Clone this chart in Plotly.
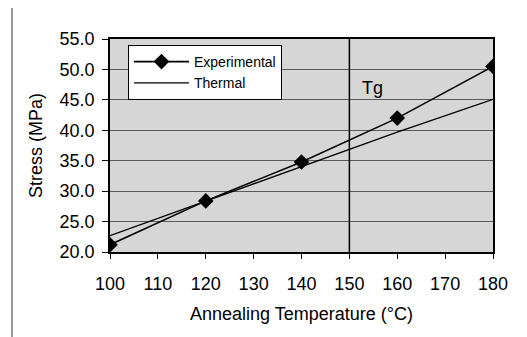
import plotly.graph_objects as go

temperature = [100, 120, 140, 160, 180]
experimental = [21.2, 28.4, 34.8, 42.0, 50.5]
thermal = [22.7, 28.4, 34.1, 39.7, 45.1]
x_ticks = [100, 110, 120, 130, 140, 150, 160, 170, 180]
y_ticks = [20, 25, 30, 35, 40, 45, 50, 55]
tg_temp = 150

# page body has an 8px margin; figure sized to fit the 527x337 window
OFF = 8
W, H = 527 - OFF, 337 - OFF
L, T = 110 - OFF, 39 - OFF
R = W - (493 - OFF)
B = H - (252 - OFF)
pw, ph = W - L - R, H - T - B

def px_x(p):
    return (p - OFF - L) / pw

def px_y(p):
    return (H - B - (p - OFF)) / ph

font_family = "Liberation Sans, Arial, sans-serif"

fig = go.Figure()
fig.add_trace(go.Scatter(
    x=temperature, y=experimental, name="Experimental", mode="lines+markers",
    line=dict(color="black", width=1.6),
    marker=dict(symbol="diamond", size=12, color="black"),
))
fig.add_trace(go.Scatter(
    x=temperature, y=thermal, name="Thermal", mode="lines",
    line=dict(color="black", width=1.3),
))

fig.add_shape(type="line", xref="x", yref="paper", x0=tg_temp, x1=tg_temp, y0=0, y1=1,
              line=dict(color="black", width=1.5))
fig.add_annotation(x=154.8, y=47.0, xref="x", yref="y", text="Tg", showarrow=False,
                   font=dict(size=18, color="black", family=font_family))

# outer chart frame (top and left edges visible)
fig.add_shape(type="line", xref="paper", yref="paper", x0=px_x(12), x1=px_x(527),
              y0=px_y(6), y1=px_y(6), line=dict(color="#555555", width=1.5))
fig.add_shape(type="line", xref="paper", yref="paper", x0=px_x(12), x1=px_x(12),
              y0=px_y(6), y1=px_y(337), line=dict(color="#777777", width=1.5))

fig.update_layout(
    width=W, height=H,
    margin=dict(l=L, r=R, t=T, b=B, pad=0),
    paper_bgcolor="white",
    plot_bgcolor="#d6d6d6",
    font=dict(family=font_family, color="black"),
    showlegend=True,
    legend=dict(
        x=px_x(128), y=px_y(45), xanchor="left", yanchor="top",
        bgcolor="white", bordercolor="black", borderwidth=1,
        font=dict(size=14, family=font_family),
        tracegroupgap=0, itemwidth=55,
    ),
    xaxis=dict(
        range=[100, 180], tickvals=x_ticks, ticktext=[str(v) for v in x_ticks],
        ticks="outside", ticklen=5, tickcolor="black", ticklabelstandoff=10,
        showline=True, linecolor="black", linewidth=1.5, mirror=True,
        showgrid=False, zeroline=False,
        tickfont=dict(size=18),
        title=dict(text="Annealing Temperature (°C)", font=dict(size=18), standoff=14),
    ),
    yaxis=dict(
        range=[20, 55], tickvals=y_ticks, ticktext=[f"{v:.1f}" for v in y_ticks],
        ticks="outside", ticklen=6, tickcolor="black", ticklabelstandoff=4,
        showline=True, linecolor="black", linewidth=1.5, mirror=True,
        showgrid=True, gridcolor="#5a5a5a", gridwidth=1, zeroline=False,
        tickfont=dict(size=18),
        title=dict(text="Stress (MPa)", font=dict(size=18), standoff=12),
    ),
)

fig.write_html("out.html")
